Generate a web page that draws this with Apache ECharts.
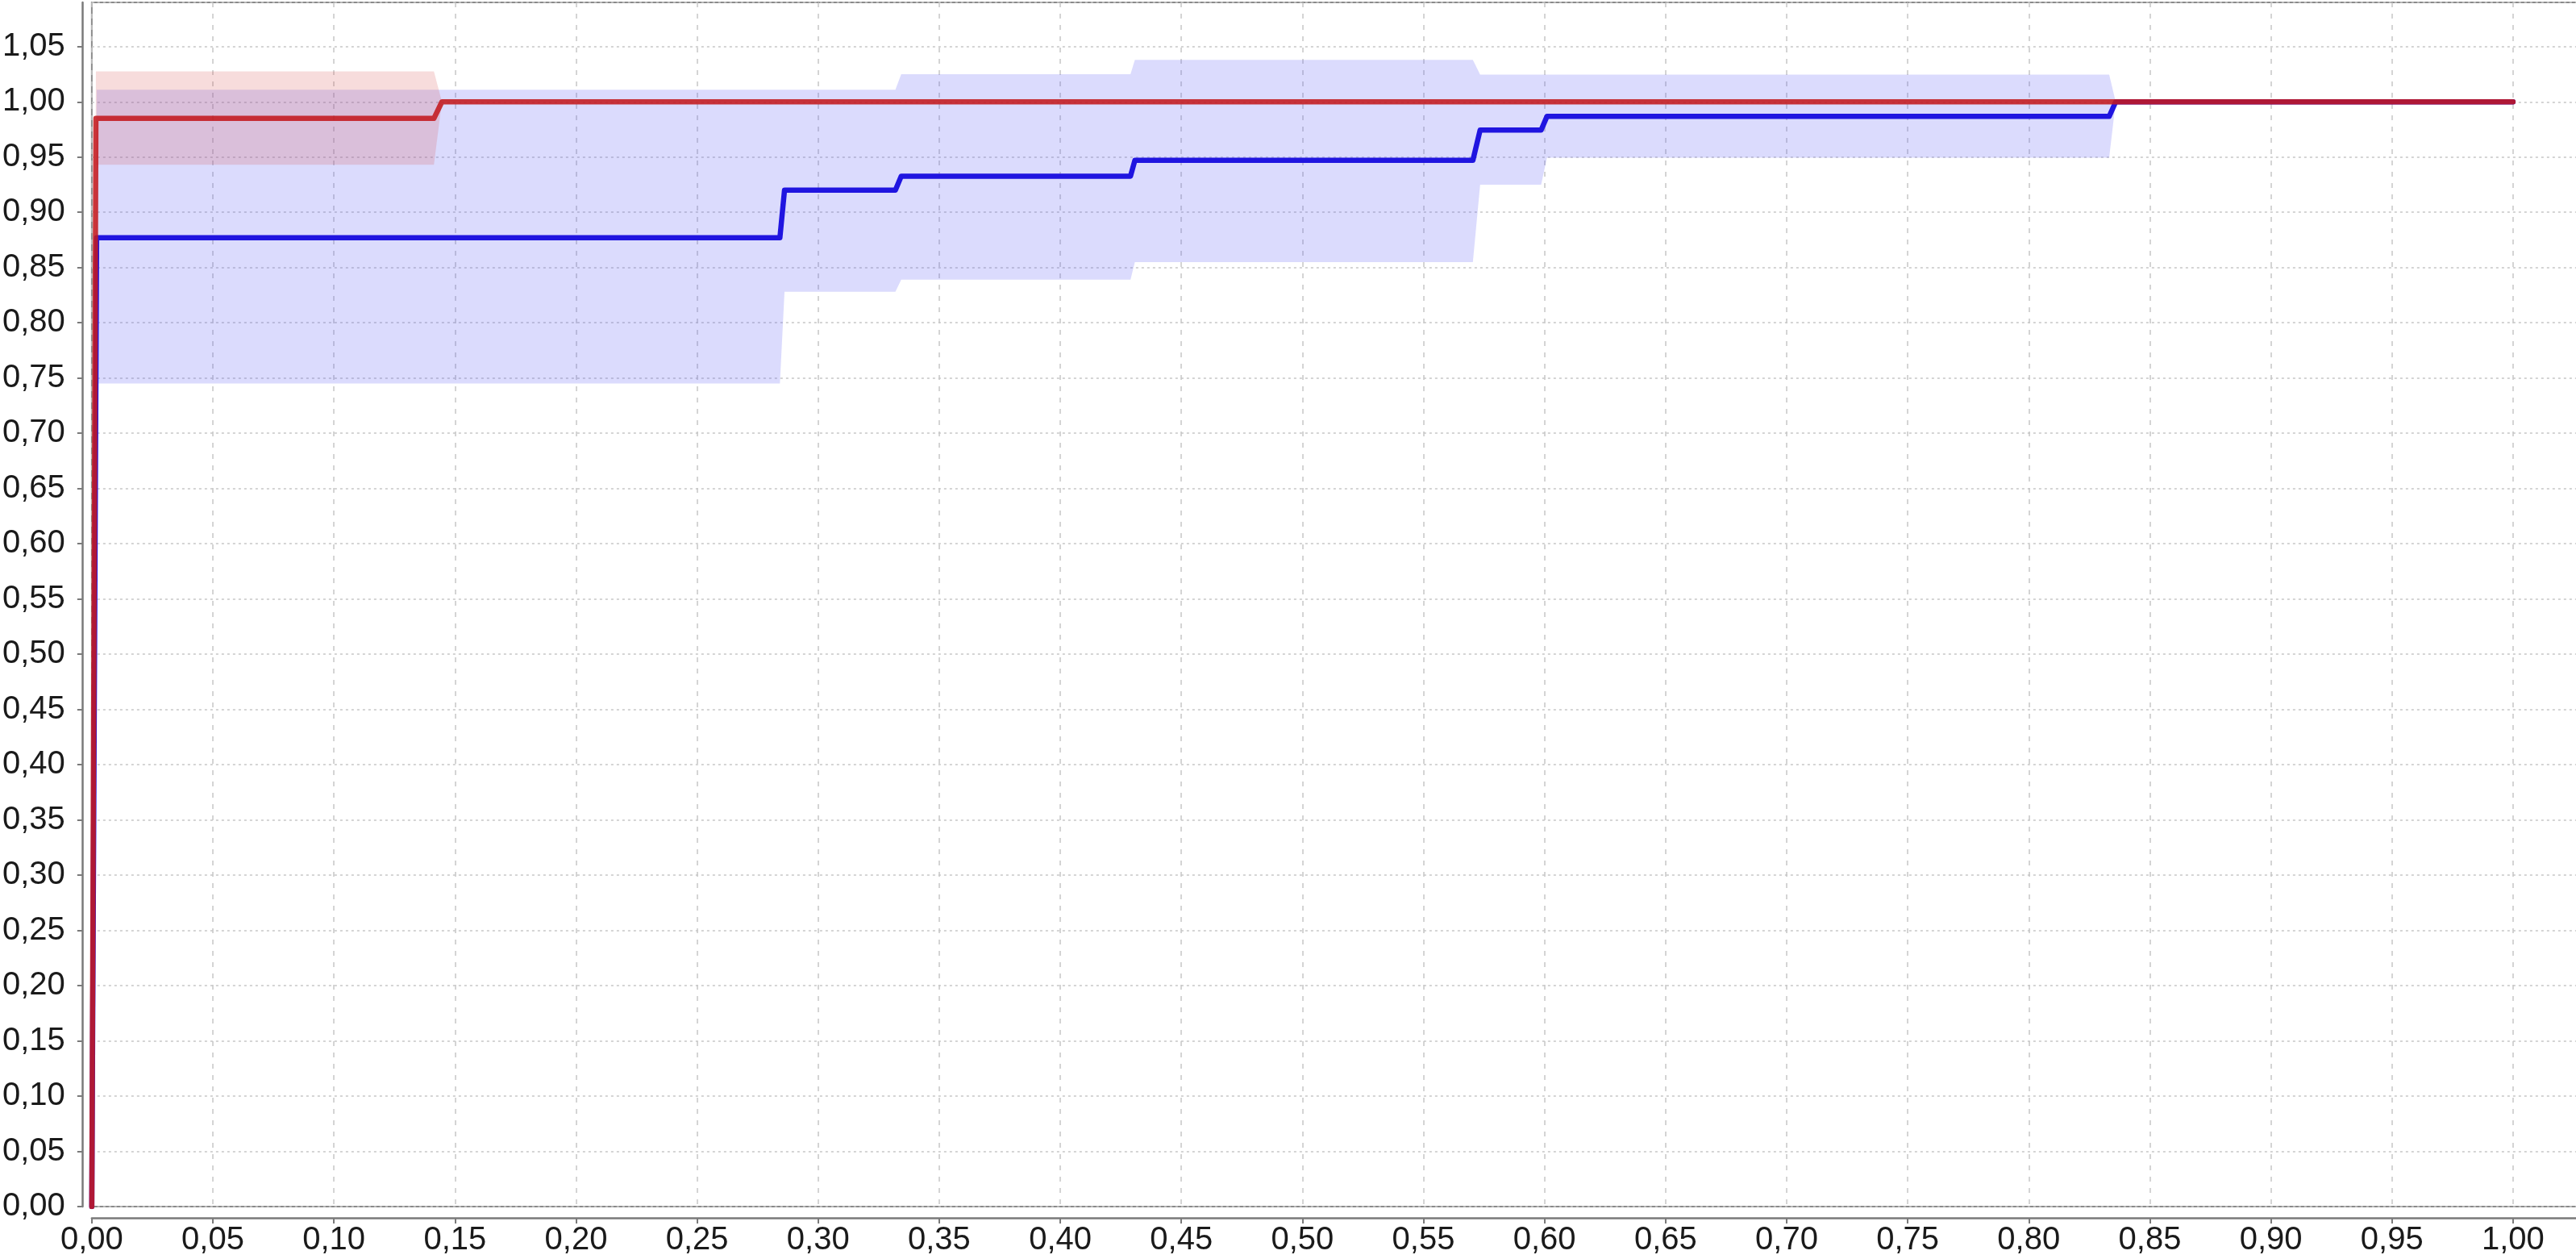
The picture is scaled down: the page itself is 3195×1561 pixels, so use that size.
<!DOCTYPE html>
<html>
<head>
<meta charset="utf-8">
<title>ROC</title>
<script src="https://cdn.jsdelivr.net/npm/echarts@6/dist/echarts.min.js"></script>
<style>
  html, body { margin: 0; padding: 0; background: #fff; overflow: hidden; }
  /* a bit wider than the window so the plot's right border falls off-screen */
  #chart { width: 3210px; height: 1561px; }
</style>
</head>
<body>
<div id="chart"></div>
<script>
// red curve and its band
const redX = [0, 0.0017, 0.1413, 0.1446, 1.0]
const redY = [0, 0.985, 0.985, 1.0, 1.0]
const redLo = [0, 0.943, 0.943, 1.0, 1.0]
const redHi = [0, 1.0275, 1.0275, 1.0, 1.0]

// blue curve and its band
const blueX = [0, 0.002, 0.2842, 0.2861, 0.3319, 0.3343, 0.429, 0.4308, 0.5704, 0.5734, 0.5986, 0.601, 0.8332, 0.8359, 1.0]
const blueY = [0, 0.877, 0.877, 0.92, 0.92, 0.9327, 0.9327, 0.947, 0.947, 0.9745, 0.9745, 0.9868, 0.9868, 1.0, 1.0]
const blueLo = [0, 0.745, 0.745, 0.828, 0.828, 0.839, 0.839, 0.855, 0.855, 0.925, 0.925, 0.9495, 0.9495, 1.0, 1.0]
const blueHi = [0, 1.011, 1.011, 1.011, 1.011, 1.025, 1.025, 1.038, 1.038, 1.0246, 1.0246, 1.0246, 1.0246, 1.0, 1.0]

const tickStep = 0.05

const fmt = v => {
  const k = v / tickStep
  if (Math.abs(k - Math.round(k)) > 1e-6) return ''
  return v.toFixed(2).replace('.', ',')
}

const band = (xs, lo, hi, fill) => ({
  type: 'custom',
  silent: true,
  renderItem(params, api) {
    if (params.dataIndex !== 0) return
    const pts = []
    for (let i = 0; i < xs.length; i++) pts.push(api.coord([xs[i], hi[i]]))
    for (let i = xs.length - 1; i >= 0; i--) pts.push(api.coord([xs[i], lo[i]]))
    return { type: 'polygon', shape: { points: pts }, style: { fill: fill } }
  },
  encode: { x: 0, y: [1, 2] },
  data: xs.map((v, i) => [v, lo[i], hi[i]])
})

const curve = (xs, ys, color) => ({
  type: 'line',
  showSymbol: false,
  silent: true,
  lineStyle: { color: color, width: 6.5, cap: 'round', join: 'round' },
  data: xs.map((v, i) => [v, ys[i]])
})

const labelFont = {
  fontFamily: '"Liberation Sans", Arial, Helvetica, sans-serif',
  fontSize: 40,
  color: '#1a1a1a'
}

const chart = echarts.init(document.getElementById('chart'))
chart.setOption({
  animation: false,
  backgroundColor: '#fff',
  grid: {
    left: 112,
    right: 0,
    top: 3,
    bottom: 65,
    show: true,
    borderColor: '#8a8a8a',
    borderWidth: 2
  },
  xAxis: {
    type: 'value',
    min: 0,
    max: 1.031,
    interval: tickStep,
    offset: 14,
    axisLine: { onZero: false, lineStyle: { color: '#7a7a7a', width: 2.5 } },
    axisTick: { length: 7, lineStyle: { color: '#7a7a7a', width: 2 } },
    axisLabel: Object.assign({ margin: 8, formatter: fmt, showMaxLabel: false }, labelFont),
    splitLine: { lineStyle: { color: '#c6c6c6', width: 1.5, type: [6, 8] } }
  },
  yAxis: {
    type: 'value',
    min: 0,
    max: 1.09,
    interval: tickStep,
    offset: 12,
    axisLine: { show: true, onZero: false, lineStyle: { color: '#7a7a7a', width: 2.5 } },
    axisTick: { show: true, length: 6, lineStyle: { color: '#7a7a7a', width: 2 } },
    axisLabel: Object.assign({ margin: 21, formatter: fmt, showMaxLabel: false }, labelFont),
    splitLine: { lineStyle: { color: '#c6c6c6', width: 1.5, type: [3, 4] } }
  },
  series: [
    band(blueX, blueLo, blueHi, 'rgba(90, 90, 245, 0.22)'),
    band(redX, redLo, redHi, 'rgba(215, 80, 80, 0.2)'),
    curve(blueX, blueY, '#2015e0'),
    curve(redX, redY, 'rgba(195, 25, 30, 0.88)')
  ]
})
</script>
</body>
</html>
